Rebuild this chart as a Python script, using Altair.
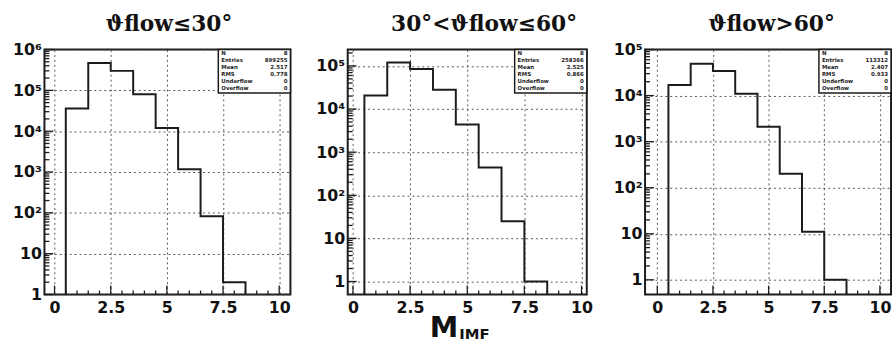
import altair as alt
import pandas as pd
import numpy as np

# Multiplicity of intermediate-mass fragments in three flow-angle windows
titles = ["ϑflow≤30°", "30°<ϑflow≤60°", "ϑflow>60°"]
bin_edges = [0.5, 1.5, 2.5, 3.5, 4.5, 5.5, 6.5, 7.5, 8.5]
bin_centres = [1, 2, 3, 4, 5, 6, 7, 8]
counts_low = [36000, 470000, 300000, 80000, 12000, 1170, 83, 2]
counts_mid = [20500, 120000, 85000, 28000, 4400, 440, 25, 1]
counts_high = [17000, 49000, 34000, 11000, 2100, 200, 11, 1]
all_counts = [counts_low, counts_mid, counts_high]

x_domains = [[-0.45, 10.5], [-0.23, 10.23], [-0.55, 10.5]]
y_domains = [[1, 1e6], [0.5, 2.4e5], [0.48, 1e5]]
plot_widths = [249, 242, 249]
plot_height = 248
axis_extents = [44, 55, 51]
title_centres = [126, 138, 128]

x_major = [0, 2.5, 5, 7.5, 10]
x_minor = [0.5, 1, 1.5, 2, 3, 3.5, 4, 4.5, 5.5, 6, 6.5, 7, 8, 8.5, 9, 9.5]
decades = [1, 10, 100, 1000, 10000, 100000, 1000000]
minor_factors = [2, 3, 4, 5, 6, 7, 8, 9]
stat_names = ["N", "Entries", "Mean", "RMS", "Underflow", "Overflow"]

y_label_expr = (
    "datum.value == 1 ? '1' : datum.value == 10 ? '10' : "
    "datum.value == 100 ? '10²' : datum.value == 1000 ? '10³' : "
    "datum.value == 10000 ? '10⁴' : datum.value == 100000 ? '10⁵' : '10⁶'"
)

INK = "#1c1c1c"
one_row = pd.DataFrame({"a": [0]})


def stats_lines(counts):
    c = np.array(counts, dtype=float)
    m = np.array(bin_centres, dtype=float)
    n = c.sum()
    mean = (c * m).sum() / n
    rms = np.sqrt((c * (m - mean) ** 2).sum() / n)
    return [str(len(counts)), f"{int(n)}", f"{mean:.3f}", f"{rms:.3f}", "0", "0"]


def panel(i):
    counts = all_counts[i]
    w, h = plot_widths[i], plot_height
    xd, yd = x_domains[i], y_domains[i]
    ymin = yd[0]

    xs = [bin_edges[0]] + bin_edges[:-1] + [bin_edges[-1]]
    ys = [ymin] + counts + [ymin]
    hist = pd.DataFrame({"x": xs, "y": ys, "k": list(range(len(xs)))})

    y_vals = [d for d in decades if yd[0] <= d <= yd[1] * 1.0001]

    x_enc = alt.X(
        "x:Q",
        scale=alt.Scale(domain=xd, nice=False, zero=False),
        axis=alt.Axis(
            values=x_major, format=".1~f", title=None, grid=True,
            gridDash=[2, 3], gridColor="#555", gridWidth=1, ticks=False,
            domain=False, labelFont="DejaVu Sans", labelFontWeight="bold",
            labelFontSize=16, labelColor="#111", labelPadding=5,
            labelFlush=False, labelOverlap=False,
        ),
    )
    y_enc = alt.Y(
        "y:Q",
        scale=alt.Scale(type="log", domain=yd, nice=False),
        axis=alt.Axis(
            values=y_vals, labelExpr=y_label_expr, title=None, grid=True,
            gridDash=[2, 3], gridColor="#555", gridWidth=1, ticks=False,
            domain=False, labelFont="DejaVu Sans", labelFontWeight="bold",
            labelFontSize=16, labelColor="#111", labelPadding=3,
            labelOverlap=False, minExtent=axis_extents[i],
            maxExtent=axis_extents[i],
        ),
    )

    line = alt.Chart(hist).mark_line(
        interpolate="step-after", color=INK, strokeWidth=2, clip=True
    ).encode(x=x_enc, y=y_enc, order="k:Q")

    # inward ticks on the bottom edge
    xt_minor = pd.DataFrame({"x": [v for v in x_minor if xd[0] <= v <= xd[1]]})
    xt_major = pd.DataFrame({"x": [v for v in x_major if xd[0] <= v <= xd[1]]})
    xtick_minor = alt.Chart(xt_minor).mark_rule(color=INK, strokeWidth=1.3).encode(
        x="x:Q", y=alt.value(h), y2=alt.value(h - 4))
    xtick_major = alt.Chart(xt_major).mark_rule(color=INK, strokeWidth=1.3).encode(
        x="x:Q", y=alt.value(h), y2=alt.value(h - 9))

    # inward ticks on the left edge
    ym = [d * f for d in decades for f in minor_factors if yd[0] <= d * f <= yd[1]]
    ytick_minor = alt.Chart(pd.DataFrame({"y": ym})).mark_rule(
        color=INK, strokeWidth=1.3).encode(y="y:Q", x=alt.value(0), x2=alt.value(5))
    ytick_major = alt.Chart(pd.DataFrame({"y": y_vals})).mark_rule(
        color=INK, strokeWidth=1.3).encode(y="y:Q", x=alt.value(0), x2=alt.value(9))

    # statistics box in the upper right corner
    box = alt.Chart(one_row).mark_rect(
        fill="white", stroke=INK, strokeWidth=1.5).encode(
        x=alt.value(w - 73), x2=alt.value(w), y=alt.value(0), y2=alt.value(44))
    names = alt.Chart(one_row).mark_text(
        align="left", baseline="top", font="DejaVu Sans", fontWeight="bold",
        fontSize=5.5, lineHeight=6.9, color=INK).encode(
        x=alt.value(w - 70), y=alt.value(2), text=alt.value(stat_names))
    values = alt.Chart(one_row).mark_text(
        align="right", baseline="top", font="DejaVu Sans", fontWeight="bold",
        fontSize=5.5, lineHeight=6.9, color=INK).encode(
        x=alt.value(w - 3), y=alt.value(2), text=alt.value(stats_lines(counts)))

    title = alt.Chart(one_row).mark_text(
        align="center", baseline="alphabetic", font="DejaVu Serif",
        fontWeight="bold", fontSize=22, color="#111").encode(
        x=alt.value(title_centres[i]), y=alt.value(-19), text=alt.value(titles[i]))

    layers = [line, xtick_minor, xtick_major, ytick_minor, ytick_major,
              box, names, values, title]

    if i == 1:
        m_txt = alt.Chart(one_row).mark_text(
            align="left", baseline="alphabetic", font="DejaVu Sans",
            fontWeight="bold", fontSize=29, color="#111").encode(
            x=alt.value(83), y=alt.value(h + 43), text=alt.value("M"))
        sub_txt = alt.Chart(one_row).mark_text(
            align="left", baseline="alphabetic", font="DejaVu Sans",
            fontWeight="bold", fontSize=15, color="#111").encode(
            x=alt.value(113), y=alt.value(h + 45), text=alt.value("IMF"))
        layers += [m_txt, sub_txt]

    return alt.layer(*layers).properties(width=w, height=h)


chart = alt.hconcat(panel(0), panel(1), panel(2), spacing=0).properties(
    padding={"left": 0, "top": 10, "right": 0, "bottom": 0},
    background="white",
).configure_view(stroke=INK, strokeWidth=2)

chart.save("out.html", embed_options={"renderer": "svg", "actions": False})
